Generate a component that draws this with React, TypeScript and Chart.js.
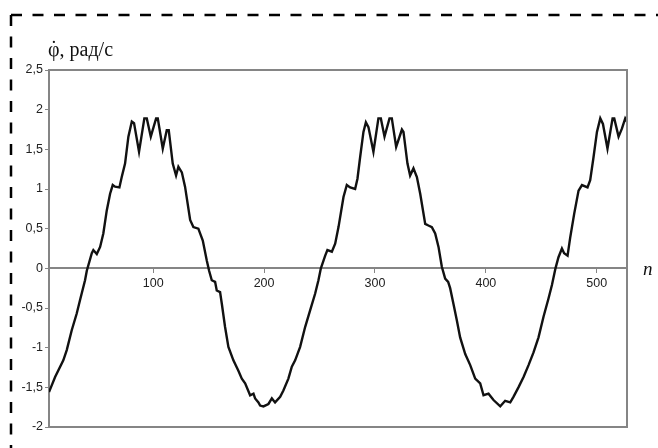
import React, { useEffect, useRef } from "react";
import { Chart, registerables } from "chart.js";

Chart.register(...registerables);

// Sample index n
const nValues = [
  6, 11.5, 18.9, 22.0, 26.5, 31.0, 34.0, 38.5, 40.1, 44.6,
  46.0, 49.1, 52.1, 55.0, 58.1, 61.1, 63.5, 65.6, 69.5, 71.6,
  74.6, 77.6, 80.7, 82.7, 87.2, 92.0, 94.2, 97.8, 102.6, 104.1,
  108.6, 112.2, 114.0, 117.6, 120.6, 122.7, 125.8, 128.7, 133.3, 136.2,
  140.7, 144.7, 148.3, 150.4, 152.8, 155.8, 157.3, 160.3, 161.9, 164.8,
  167.8, 172.3, 176.8, 179.9, 182.9, 187.4, 190.4, 191.9, 194.9, 196.4,
  199.4, 203.9, 207.0, 209.9, 214.5, 217.4, 221.9, 225.0, 228.0, 232.5,
  237.0, 241.5, 246.0, 249.0, 251.2, 255.1, 257.1, 261.1, 264.1, 267.1,
  271.6, 274.6, 277.6, 282.1, 284.2, 286.6, 289.6, 291.8, 294.1, 298.6,
  303.1, 305.3, 308.6, 313.1, 315.2, 319.1, 324.3, 325.7, 329.3, 331.7,
  334.7, 337.8, 340.8, 345.3, 348.2, 351.3, 354.3, 357.3, 360.3, 363.3,
  366.0, 367.8, 370.8, 373.9, 376.8, 381.4, 385.9, 390.4, 394.9, 397.9,
  402.4, 406.9, 413.0, 417.4, 422.0, 424.9, 429.4, 434.0, 438.5, 443.0,
  447.5, 452.0, 456.5, 459.6, 462.8, 465.5, 468.6, 470.6, 473.7, 476.1,
  479.7, 483.6, 486.7, 491.7, 494.1, 497.1, 500.2, 503.2, 505.6, 509.7,
  514.3, 515.8, 519.7, 522.7, 525.7, 527.3,
];

// Angular velocity, rad/s
const phiDotValues = [
  -1.56, -1.37, -1.16, -1.03, -0.78, -0.57, -0.40, -0.15, -0.03, 0.19,
  0.23, 0.18, 0.27, 0.44, 0.73, 0.94, 1.05, 1.03, 1.02, 1.15,
  1.32, 1.66, 1.85, 1.83, 1.47, 1.89, 1.89, 1.66, 1.89, 1.89,
  1.51, 1.74, 1.74, 1.32, 1.17, 1.28, 1.21, 1.03, 0.61, 0.52,
  0.50, 0.35, 0.10, -0.03, -0.15, -0.17, -0.28, -0.30, -0.45, -0.74,
  -0.99, -1.16, -1.29, -1.39, -1.45, -1.60, -1.58, -1.64, -1.69, -1.73,
  -1.74, -1.71, -1.64, -1.69, -1.62, -1.54, -1.39, -1.24, -1.16, -0.99,
  -0.74, -0.53, -0.32, -0.15, 0, 0.16, 0.23, 0.21, 0.31, 0.52,
  0.90, 1.05, 1.02, 1.00, 1.13, 1.40, 1.72, 1.84, 1.78, 1.47,
  1.89, 1.89, 1.66, 1.89, 1.89, 1.53, 1.75, 1.72, 1.32, 1.17,
  1.26, 1.15, 0.94, 0.56, 0.54, 0.52, 0.44, 0.27, 0.02, -0.13,
  -0.17, -0.25, -0.45, -0.66, -0.87, -1.08, -1.22, -1.39, -1.45, -1.60,
  -1.58, -1.66, -1.74, -1.67, -1.69, -1.62, -1.50, -1.37, -1.22, -1.06,
  -0.87, -0.61, -0.38, -0.21, 0, 0.14, 0.25, 0.19, 0.16, 0.39,
  0.69, 0.98, 1.05, 1.02, 1.11, 1.40, 1.72, 1.89, 1.82, 1.51,
  1.89, 1.89, 1.66, 1.76, 1.89, 1.85,
];

const xTicks = [100, 200, 300, 400, 500];
const xMin = 6;
const xMax = 527.3;
const yMin = -2;
const yMax = 2.5;
const yStep = 0.5;

// y caption: φ with a dot above (time derivative), then the unit
const yTitleSymbol = "φ";
const yTitleDot = "˙";
const yTitleUnit = ", рад/с";
const xTitle = "n";

const AXIS_GRAY = "#858585";
const SANS = "'Liberation Sans', Arial, sans-serif";
const SERIF = "'Liberation Serif', 'Times New Roman', serif";

// Frame of the plot box plus the dashed outline and the axis captions
const decorPlugin = {
  id: "decor",
  beforeDraw(chart: any) {
    const { ctx } = chart;
    ctx.save();
    ctx.fillStyle = "#ffffff";
    ctx.fillRect(0, 0, chart.width, chart.height);
    ctx.restore();
  },
  afterDraw(chart: any) {
    const { ctx, chartArea } = chart;
    const { left, top, right, bottom } = chartArea;
    ctx.save();
    // plot box
    ctx.strokeStyle = AXIS_GRAY;
    ctx.lineWidth = 2;
    ctx.beginPath();
    ctx.moveTo(left, top);
    ctx.lineTo(right, top);
    ctx.lineTo(right, bottom);
    ctx.lineTo(left, bottom);
    ctx.stroke();

    // dashed outline
    ctx.strokeStyle = "#000000";
    ctx.lineWidth = 2.5;
    ctx.setLineDash([11, 10.5]);
    ctx.beginPath();
    ctx.moveTo(11, 15);
    ctx.lineTo(chart.width, 15);
    ctx.stroke();
    ctx.beginPath();
    ctx.moveTo(11, 15);
    ctx.lineTo(11, chart.height);
    ctx.stroke();
    ctx.setLineDash([]);

    // captions
    ctx.fillStyle = "#111111";
    ctx.textBaseline = "alphabetic";
    ctx.textAlign = "left";
    ctx.font = `20px ${SERIF}`;
    const x0 = 48;
    const base = 56;
    const symW = ctx.measureText(yTitleSymbol).width;
    ctx.fillText(yTitleSymbol, x0, base);
    ctx.textAlign = "center";
    ctx.fillText(yTitleDot, x0 + symW / 2, base - 1);
    ctx.textAlign = "left";
    ctx.fillText(yTitleUnit, x0 + symW, base);
    ctx.font = `italic 19px ${SERIF}`;
    ctx.fillText(xTitle, 643, 275);
    ctx.restore();
  },
};

export default function App() {
  const canvasRef = useRef<HTMLCanvasElement | null>(null);

  useEffect(() => {
    const canvas = canvasRef.current;
    if (!canvas) return;
    const points = nValues.map((n, i) => ({ x: n, y: phiDotValues[i] }));
    const chart = new Chart(canvas, {
      type: "line",
      data: {
        datasets: [
          {
            data: points,
            borderColor: "#111111",
            borderWidth: 2.4,
            pointRadius: 0,
            tension: 0,
            fill: false,
          },
        ],
      },
      options: {
        responsive: false,
        animation: false,
        devicePixelRatio: 1,
        layout: { padding: { left: 0, top: 70, right: 31, bottom: 21 } },
        plugins: {
          legend: { display: false },
          tooltip: { enabled: false },
        },
        scales: {
          x: {
            type: "linear",
            min: xMin,
            max: xMax,
            position: { y: 0 } as any,
            afterBuildTicks: (scale: any) => {
              scale.ticks = xTicks.map((v) => ({ value: v }));
            },
            grid: {
              display: true,
              drawOnChartArea: false,
              drawTicks: true,
              tickLength: 4,
              color: AXIS_GRAY,
              lineWidth: 1,
            },
            border: { display: true, color: AXIS_GRAY, width: 2 },
            ticks: {
              color: "#222222",
              font: { family: SANS, size: 12.5 },
              padding: 4,
              maxRotation: 0,
              autoSkip: false,
            },
          },
          y: {
            type: "linear",
            min: yMin,
            max: yMax,
            afterFit: (scale: any) => {
              scale.width = 49;
            },
            grid: {
              display: true,
              drawOnChartArea: false,
              drawTicks: true,
              tickLength: 4,
              color: AXIS_GRAY,
              lineWidth: 1,
            },
            border: { display: true, color: AXIS_GRAY, width: 2 },
            ticks: {
              stepSize: yStep,
              color: "#222222",
              font: { family: SANS, size: 12.5 },
              padding: 2,
              callback: (v: any) => String(v).replace(".", ","),
            },
          },
        },
      },
      plugins: [decorPlugin],
    });
    return () => chart.destroy();
  }, []);

  return (
    <div style={{ position: "fixed", left: 0, top: 0, width: 658, height: 448, background: "#fff" }}>
      <canvas ref={canvasRef} width={658} height={448} style={{ display: "block" }} />
    </div>
  );
}
